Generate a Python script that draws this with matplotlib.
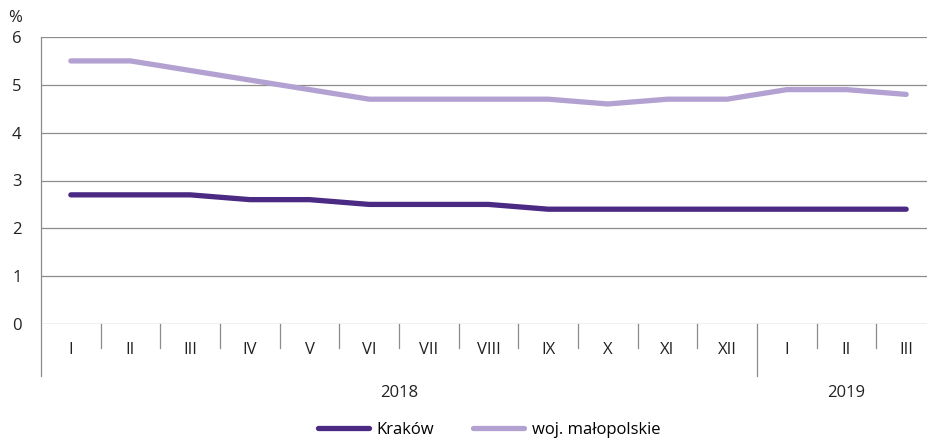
import numpy as np
import matplotlib
matplotlib.use("Agg")
import matplotlib.pyplot as plt
import matplotlib.transforms as mtransforms

plt.rcParams['font.family'] = ['Open Sans', 'DejaVu Sans']

# dane
months = ["I", "II", "III", "IV", "V", "VI", "VII", "VIII", "IX", "X", "XI", "XII", "I", "II", "III"]
years = ["2018", "2019"]
year_sizes = [12, 3]
krakow = [2.7, 2.7, 2.7, 2.6, 2.6, 2.5, 2.5, 2.5, 2.4, 2.4, 2.4, 2.4, 2.4, 2.4, 2.4]
malopolskie = [5.5, 5.5, 5.3, 5.1, 4.9, 4.7, 4.7, 4.7, 4.7, 4.6, 4.7, 4.7, 4.9, 4.9, 4.8]

c_krakow = "#4b2a83"
c_malo = "#b3a2d1"
grid_c = "#8c8c8c"

W, H = 928, 438
fig = plt.figure(figsize=(W / 100, H / 100), dpi=100)
ax = fig.add_axes([41 / W, 1 - 324 / H, 895 / W, 287 / H])

x = np.arange(len(months)) + 0.5
ax.plot(x, krakow, color=c_krakow, lw=3.8, solid_capstyle='round', label="Kraków", zorder=3)
ax.plot(x, malopolskie, color=c_malo, lw=3.8, solid_capstyle='round', label="woj. małopolskie", zorder=3)

ax.set_xlim(0, len(months))
ax.set_ylim(0, 6)
ax.set_yticks(range(0, 7))
ax.set_yticklabels([str(v) for v in range(0, 7)], fontsize=12, color="#222222")
ax.tick_params(axis='y', length=0, pad=14)
ax.set_xticks([])
for s in ax.spines.values():
    s.set_visible(False)
for v in range(0, 7):
    ax.axhline(v, color=grid_c, lw=0.9, zorder=1)

trans = mtransforms.blended_transform_factory(ax.transData, ax.transAxes)
# lewa os i przedluzenia
year_bounds = np.cumsum([0] + year_sizes)
for b in range(0, len(months)):
    low = -0.181 if b in year_bounds else -0.084
    top = 1.0 if b == 0 else 0.0
    ax.plot([b, b], [low, top], color=grid_c, lw=0.9, transform=trans, clip_on=False)

for xi, m in zip(x, months):
    ax.text(xi, -0.09, m, transform=trans, ha='center', va='center', fontsize=12, color="#222222")
for i, y in enumerate(years):
    xc = (year_bounds[i] + year_bounds[i + 1]) / 2
    ax.text(xc, -0.24, y, transform=trans, ha='center', va='center', fontsize=12, color="#222222")

fig.text(15 / W, 1 - 18 / H, "%", ha='center', va='center', fontsize=12, color="#222222")

fig.legend(loc='center', bbox_to_anchor=(489 / W, 1 - 430 / H), ncol=2, frameon=False,
           fontsize=12, handlelength=3.1, handletextpad=0.45, columnspacing=2.3)

fig.savefig("out.png", dpi=100)
